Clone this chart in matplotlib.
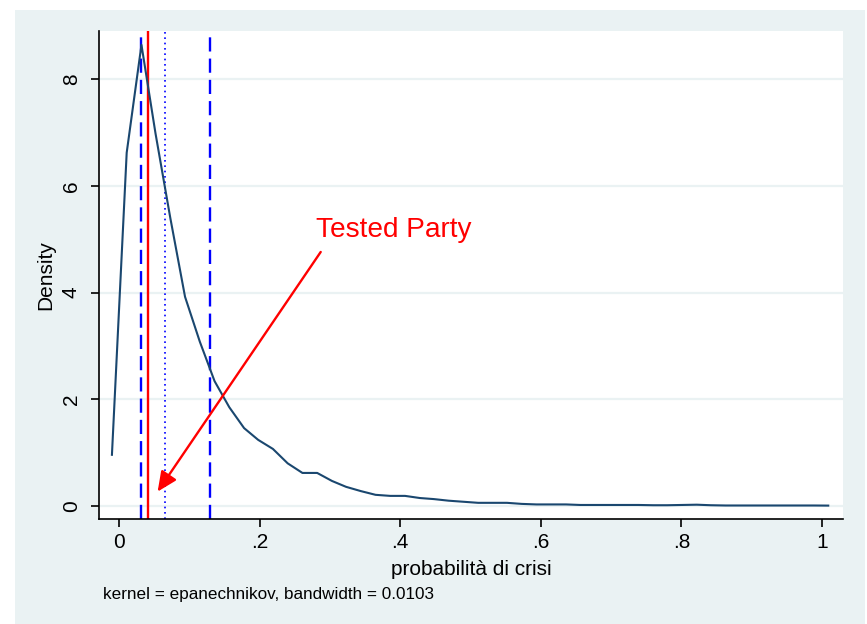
import matplotlib
matplotlib.use('Agg')
import matplotlib.pyplot as plt
from matplotlib.patches import Rectangle

# Data (kernel density estimate, 50 evaluation points)
x_grid = [-0.010, 0.011, 0.032, 0.052, 0.073, 0.094, 0.115, 0.136, 0.157, 0.178,
          0.198, 0.219, 0.240, 0.261, 0.282, 0.303, 0.323, 0.344, 0.365, 0.386,
          0.407, 0.428, 0.448, 0.469, 0.490, 0.511, 0.532, 0.552, 0.573, 0.594,
          0.615, 0.636, 0.656, 0.677, 0.697, 0.718, 0.739, 0.760, 0.780, 0.801,
          0.822, 0.842, 0.863, 0.884, 0.905, 0.926, 0.946, 0.967, 0.988, 1.009]
density = [0.96, 6.62, 8.64, 6.98, 5.40, 3.92, 3.08, 2.34, 1.85, 1.46,
           1.24, 1.07, 0.80, 0.62, 0.62, 0.47, 0.36, 0.28, 0.21, 0.19,
           0.19, 0.15, 0.13, 0.10, 0.08, 0.06, 0.06, 0.06, 0.04, 0.03,
           0.03, 0.03, 0.02, 0.02, 0.02, 0.02, 0.02, 0.015, 0.015, 0.02,
           0.025, 0.015, 0.01, 0.01, 0.01, 0.01, 0.01, 0.01, 0.01, 0.008]

ci_low, ci_high = 0.031, 0.130
tested_party = 0.041
median_line = 0.066

x_ticks = [0, 0.2, 0.4, 0.6, 0.8, 1.0]
x_ticklabels = ['0', '.2', '.4', '.6', '.8', '1']
y_ticks = [0, 2, 4, 6, 8]
y_ticklabels = ['0', '2', '4', '6', '8']

bg = '#eaf2f3'
navy = '#1a476f'
plt.rcParams['font.family'] = ['Liberation Sans', 'DejaVu Sans']

fig = plt.figure(figsize=(8.67, 6.24), dpi=100)
fig.patch.set_facecolor('white')
fig.patches.append(Rectangle((15 / 867, 0), 850 / 867, 614 / 624,
                             transform=fig.transFigure, facecolor=bg,
                             edgecolor='none', zorder=-10))

ax = fig.add_axes([99 / 867, 105 / 624, 744 / 867, 488 / 624])
ax.set_zorder(5)
ax.set_facecolor('white')

ax.set_xlim(-0.0284, 1.030)
ax.set_ylim(-0.243, 8.90)

for yt in y_ticks:
    ax.axhline(yt, color=bg, lw=1.6, zorder=1)

ax.plot(x_grid, density, color=navy, lw=1.5, zorder=3)

ax.axvline(ci_low, color='#0000ff', lw=1.7, dashes=(6, 3), zorder=2)
ax.axvline(ci_high, color='#0000ff', lw=1.7, dashes=(6, 3), zorder=2)
ax.axvline(tested_party, color='#ff0000', lw=1.7, zorder=2)
ax.axvline(median_line, color='#0000ff', lw=1.2, dashes=(1, 2.2), zorder=2)

ax.annotate('', xy=(0.055, 0.27), xytext=(0.287, 4.76),
            arrowprops=dict(arrowstyle='-|>,head_length=1.2,head_width=0.55',
                            color='#ff0000', lw=1.7, shrinkA=0, shrinkB=0),
            zorder=4)
ax.text(0.280, 5.04, 'Tested Party', color='#ff0000', fontsize=20.2,
        va='baseline', ha='left', zorder=4)

ax.spines['top'].set_visible(False)
ax.spines['right'].set_visible(False)
ax.spines['left'].set_linewidth(1.2)
ax.spines['bottom'].set_linewidth(1.2)

ax.set_xticks(x_ticks)
ax.set_xticklabels(x_ticklabels)
ax.set_yticks(y_ticks)
ax.set_yticklabels(y_ticklabels, rotation=90, va='center')
ax.tick_params(axis='both', length=6, width=1.2, labelsize=15)
ax.tick_params(axis='y', pad=7)
ax.tick_params(axis='x', pad=4)

ax.set_xlabel('probabilità di crisi', fontsize=15, labelpad=6)
ax.set_ylabel('Density', fontsize=15, labelpad=5)

fig.text(103 / 867, 1 - 595 / 624, 'kernel = epanechnikov, bandwidth = 0.0103',
         fontsize=12.3, va='center', ha='left')

plt.savefig('out.png', dpi=100, facecolor=fig.get_facecolor())
plt.close()
